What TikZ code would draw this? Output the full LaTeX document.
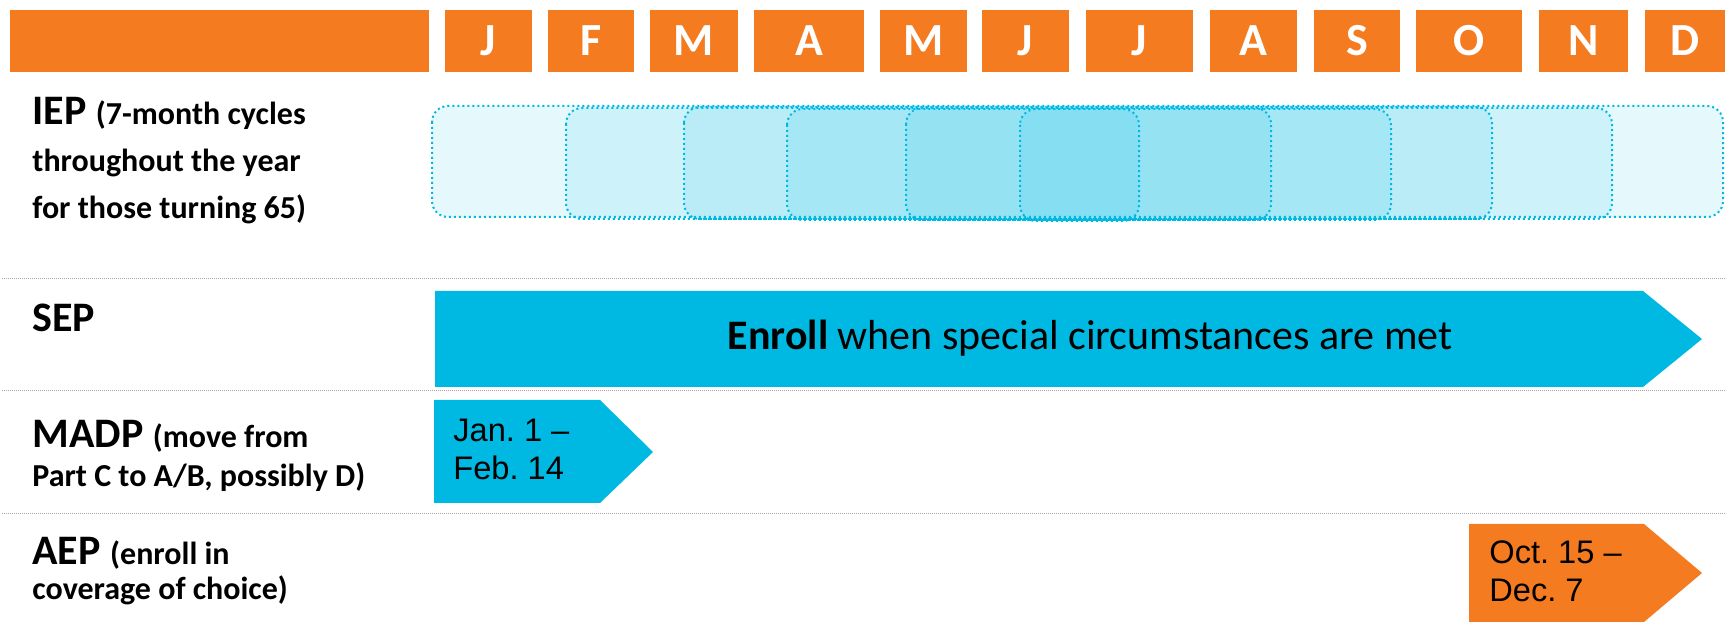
\documentclass[tikz,border=0pt]{standalone}
\usepackage{fontspec}
\setmainfont{Carlito}
\newfontfamily\arialf{Liberation Sans}
\definecolor{hdrorange}{HTML}{F47B20}
\definecolor{sepcyan}{HTML}{00B9E3}
\definecolor{sepgray}{HTML}{A6A6A6}
\frenchspacing
\begin{document}
\begin{tikzpicture}[x=0.5pt,y=-0.5pt,
  mbox/.style={fill=hdrorange, text=white, font=\bfseries\fontsize{23}{23}\selectfont, inner sep=0pt, minimum height=31pt, anchor=center},
  lbl/.style={anchor=base west, inner sep=0pt, font=\bfseries\fontsize{21}{21}\selectfont},
  sublbl/.style={anchor=base west, inner sep=0pt, font=\bfseries\fontsize{16}{16}\selectfont},
  datelbl/.style={anchor=base west, inner sep=0pt, font=\arialf\fontsize{16.3}{16.3}\selectfont},
  iepbox/.style={draw=sepcyan, line width=1pt, dash pattern=on 1pt off 1.5pt, fill=sepcyan, fill opacity=0.1, rounded corners=8pt},
  rowsep/.style={draw=sepgray, line width=0.5pt, dash pattern=on 0.5pt off 0.5pt}
]
\useasboundingbox (0,0) rectangle (1725,624);
% header
\node[mbox, minimum width={(429-10)*0.5pt}] (hdr) at ({(10+429)/2},41) {};
\foreach \a/\b/\l [count=\i] in {445/532/J,548/634/F,650/738/M,754/864/A,880/967/M,982/1069/J,1086/1193/J,1210/1297/A,1314/1400/S,1416/1522/O,1539/1628/N,1645/1725/D}
  \node[mbox, minimum width={(\b-\a)*0.5pt}] (m\i) at ({(\a+\b)/2},41) {\l};
% row separators
\draw[rowsep] (2,279) -- (1725,279);
\draw[rowsep] (2,391) -- (1725,391);
\draw[rowsep] (2,514) -- (1725,514);
% IEP labels
\node[lbl] (iep) at (32,125) {IEP {\fontsize{16}{16}\selectfont (7-month cycles}};
\node[sublbl] (iep2) at (32,172) {throughout the year};
\node[sublbl] (iep3) at (32,219) {for those turning 65)};
% IEP boxes
\draw[iepbox] (432,106) rectangle (1723,217);
\draw[iepbox] (566,108) rectangle (1612,219);
\draw[iepbox] (684,107) rectangle (1492,219);
\draw[iepbox] (787,109) rectangle (1391,220);
\draw[iepbox] (906,108) rectangle (1271,220);
\draw[iepbox] (1020,109) rectangle (1139,221);
% SEP
\node[lbl] (sep) at (32,332) {SEP};
\fill[sepcyan] (435,291) -- (1643,291) -- (1702,339) -- (1643,387) -- (435,387) -- cycle;
\node[anchor=base, inner sep=0pt, font=\fontsize{21}{21}\selectfont] (septxt) at (1090,350) {\textbf{Enroll} when special circumstances are met};
% MADP
\node[lbl] (madp) at (32,448) {MADP {\fontsize{16}{16}\selectfont (move from}};
\node[sublbl] (madp2) at (32,487) {Part C to A/B, possibly D)};
\fill[sepcyan] (434,400) -- (600,400) -- (653,452) -- (600,503) -- (434,503) -- cycle;
\node[datelbl] (madpd1) at (453,442) {Jan. 1 –};
\node[datelbl] (madpd2) at (453,480) {Feb. 14};
% AEP
\node[lbl] (aep) at (32,565) {AEP {\fontsize{16}{16}\selectfont (enroll in}};
\node[sublbl] (aep2) at (32,600) {coverage of choice)};
\fill[hdrorange] (1469,524) -- (1644,524) -- (1702,573) -- (1644,622) -- (1469,622) -- cycle;
\node[datelbl] (aepd1) at (1489,564) {Oct. 15 –};
\node[datelbl] (aepd2) at (1489,602) {Dec. 7};
\end{tikzpicture}
\end{document}
